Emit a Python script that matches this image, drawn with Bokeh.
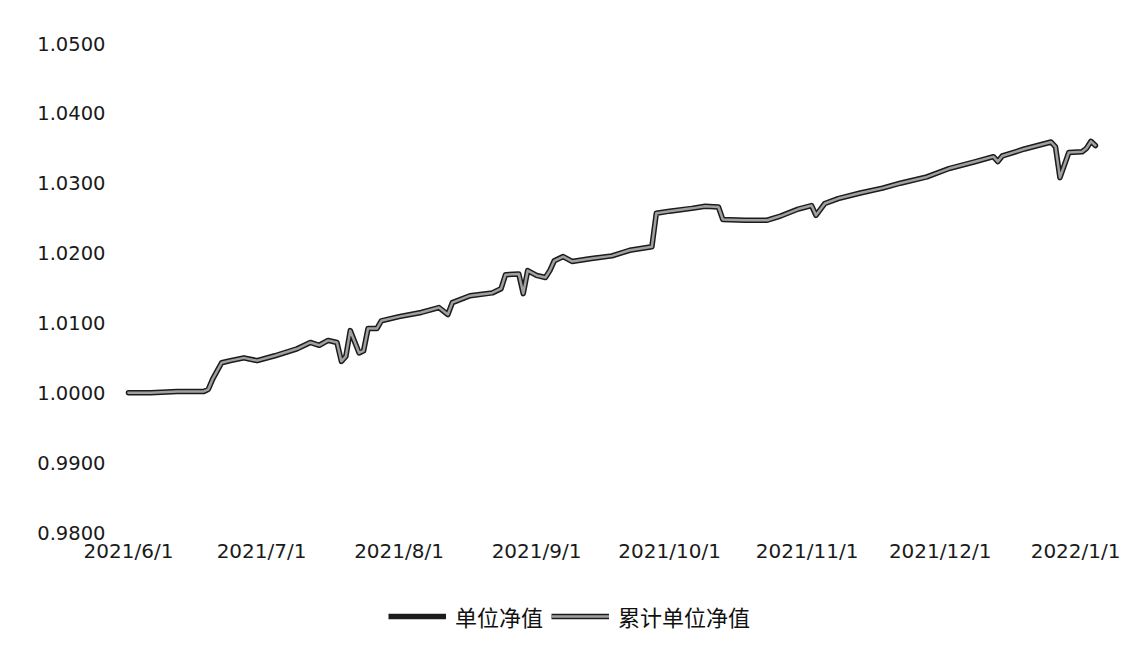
import pandas as pd
from bokeh.plotting import figure
from bokeh.layouts import column
from bokeh.models import Range1d, FixedTicker, Legend, LegendItem, NumeralTickFormatter
from bokeh.embed import file_html
from bokeh.resources import INLINE

# ---- data ----
dates = [
    "2021-06-01", "2021-06-06", "2021-06-12", "2021-06-18", "2021-06-19", "2021-06-20",
    "2021-06-22", "2021-06-24", "2021-06-27", "2021-06-30", "2021-07-04", "2021-07-09",
    "2021-07-12", "2021-07-14", "2021-07-16", "2021-07-18", "2021-07-19", "2021-07-20",
    "2021-07-21", "2021-07-23", "2021-07-24", "2021-07-25", "2021-07-27", "2021-07-28",
    "2021-08-01", "2021-08-06", "2021-08-10", "2021-08-12", "2021-08-13", "2021-08-17",
    "2021-08-22", "2021-08-24", "2021-08-25", "2021-08-28", "2021-08-29", "2021-08-30",
    "2021-09-01", "2021-09-03", "2021-09-04", "2021-09-05", "2021-09-07", "2021-09-09",
    "2021-09-13", "2021-09-18", "2021-09-22", "2021-09-27", "2021-09-28", "2021-10-01",
    "2021-10-06", "2021-10-09", "2021-10-12", "2021-10-13", "2021-10-18", "2021-10-23",
    "2021-10-26", "2021-10-30", "2021-11-02", "2021-11-03", "2021-11-05", "2021-11-08",
    "2021-11-13", "2021-11-18", "2021-11-22", "2021-11-28", "2021-12-03", "2021-12-09",
    "2021-12-13", "2021-12-14", "2021-12-15", "2021-12-20", "2021-12-26", "2021-12-27",
    "2021-12-28", "2021-12-30", "2022-01-02", "2022-01-03", "2022-01-04", "2022-01-05",
]
unit_nav = [
    1.0000, 1.0000, 1.0002, 1.0002, 1.0005, 1.0020,
    1.0043, 1.0046, 1.0050, 1.0046, 1.0053, 1.0063,
    1.0072, 1.0068, 1.0075, 1.0072, 1.0045, 1.0052,
    1.0089, 1.0057, 1.0060, 1.0092, 1.0092, 1.0103,
    1.0109, 1.0115, 1.0122, 1.0112, 1.0129, 1.0139,
    1.0143, 1.0149, 1.0169, 1.0170, 1.0142, 1.0175,
    1.0168, 1.0165, 1.0175, 1.0189, 1.0195, 1.0188,
    1.0192, 1.0196, 1.0204, 1.0209, 1.0257, 1.0260,
    1.0264, 1.0267, 1.0266, 1.0248, 1.0247, 1.0247,
    1.0253, 1.0263, 1.0268, 1.0254, 1.0271, 1.0278,
    1.0286, 1.0293, 1.0300, 1.0309, 1.0321, 1.0331,
    1.0338, 1.0331, 1.0339, 1.0349, 1.0359, 1.0352,
    1.0308, 1.0344, 1.0345, 1.0350, 1.0360, 1.0354,
]
cum_nav = [
    1.0000, 1.0000, 1.0002, 1.0002, 1.0005, 1.0020,
    1.0043, 1.0046, 1.0050, 1.0046, 1.0053, 1.0063,
    1.0072, 1.0068, 1.0075, 1.0072, 1.0045, 1.0052,
    1.0089, 1.0057, 1.0060, 1.0092, 1.0092, 1.0103,
    1.0109, 1.0115, 1.0122, 1.0112, 1.0129, 1.0139,
    1.0143, 1.0149, 1.0169, 1.0170, 1.0142, 1.0175,
    1.0168, 1.0165, 1.0175, 1.0189, 1.0195, 1.0188,
    1.0192, 1.0196, 1.0204, 1.0209, 1.0257, 1.0260,
    1.0264, 1.0267, 1.0266, 1.0248, 1.0247, 1.0247,
    1.0253, 1.0263, 1.0268, 1.0254, 1.0271, 1.0278,
    1.0286, 1.0293, 1.0300, 1.0309, 1.0321, 1.0331,
    1.0338, 1.0331, 1.0339, 1.0349, 1.0359, 1.0352,
    1.0308, 1.0344, 1.0345, 1.0350, 1.0360, 1.0354,
]
tick_dates = ["2021-06-01", "2021-07-01", "2021-08-01", "2021-09-01",
              "2021-10-01", "2021-11-01", "2021-12-01", "2022-01-01"]
tick_labels = ["2021/6/1", "2021/7/1", "2021/8/1", "2021/9/1",
               "2021/10/1", "2021/11/1", "2021/12/1", "2022/1/1"]
y_ticks = [0.98, 0.99, 1.00, 1.01, 1.02, 1.03, 1.04, 1.05]
series_names = ["单位净值", "累计单位净值"]

UNIT_COLOR, UNIT_W = "#1c1c1c", 5.5
CUM_COLOR, CUM_W = "#a0a0a0", 2.5

# ---- build ----
base = pd.Timestamp(tick_dates[0])
x = [(pd.Timestamp(d) - base).days for d in dates]
xt = [(pd.Timestamp(d) - base).days for d in tick_dates]

W = 1120
p = figure(width=W, height=572, output_backend="svg", toolbar_location=None,
           x_range=Range1d(-2.93, 221.4), y_range=Range1d(0.98, 1.05),
           min_border_left=115, min_border_right=10, min_border_top=43,
           min_border_bottom=40)
p.outline_line_color = None
p.background_fill_color = "white"
p.border_fill_color = "white"
p.grid.visible = False

p.line(x, unit_nav, line_color=UNIT_COLOR, line_width=UNIT_W,
       line_join="round", line_cap="round")
p.line(x, cum_nav, line_color=CUM_COLOR, line_width=CUM_W,
       line_join="round", line_cap="round")

p.xaxis.ticker = FixedTicker(ticks=xt)
p.xaxis.major_label_overrides = {t: l for t, l in zip(xt, tick_labels)}
p.yaxis.ticker = FixedTicker(ticks=y_ticks)
p.yaxis.formatter = NumeralTickFormatter(format="0.0000")

for ax in (p.xaxis[0], p.yaxis[0]):
    ax.axis_line_color = None
    ax.major_tick_line_color = None
    ax.minor_tick_line_color = None
    ax.major_tick_out = 0
    ax.major_tick_in = 0
    ax.major_label_text_font = "DejaVu Sans"
    ax.major_label_text_color = "#1a1a1a"
p.xaxis.major_label_text_font_size = "20px"
p.yaxis.major_label_text_font_size = "19.5px"
p.yaxis.major_label_standoff = 10
p.xaxis.major_label_standoff = 6

# ---- legend strip below the chart ----
lg = figure(width=W, height=68, output_backend="svg", toolbar_location=None,
            x_range=Range1d(0, 1), y_range=Range1d(0, 1),
            x_axis_type=None, y_axis_type=None,
            min_border_left=0, min_border_right=0, min_border_top=0,
            min_border_bottom=0)
lg.outline_line_color = None
lg.grid.visible = False
off = [-5, -4]
l1 = lg.line(off, off, line_color=UNIT_COLOR, line_width=UNIT_W)
l1b = lg.line(off, off, line_color=UNIT_COLOR, line_width=UNIT_W)
l2 = lg.line(off, off, line_color=CUM_COLOR, line_width=CUM_W)
legend = Legend(items=[LegendItem(label=series_names[0], renderers=[l1]),
                       LegendItem(label=series_names[1], renderers=[l1b, l2])],
                orientation="horizontal", location=(273, 8),
                border_line_alpha=0, background_fill_alpha=0,
                label_text_font="Noto Sans CJK SC", label_text_font_size="22px",
                label_text_color="#111111",
                glyph_width=58, glyph_height=20, label_standoff=9, spacing=8,
                padding=0, margin=0)
lg.add_layout(legend, "center")

open("out.html", "w").write(file_html(column(p, lg, spacing=0), INLINE))
